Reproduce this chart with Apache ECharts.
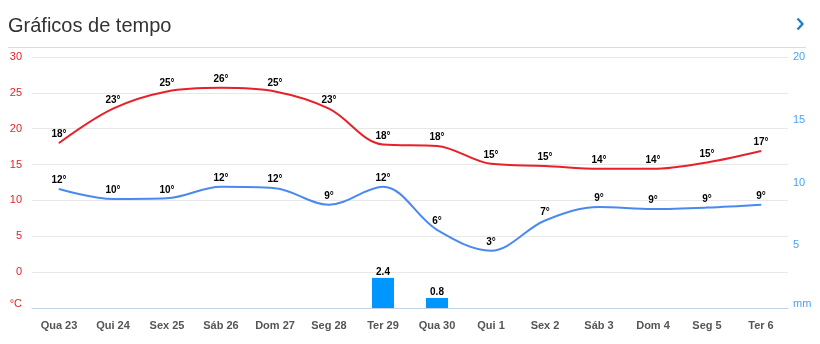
<!DOCTYPE html>
<html>
<head>
<meta charset="utf-8">
<script src="https://cdn.jsdelivr.net/npm/echarts@6/dist/echarts.min.js"></script>
<style>
html,body{margin:0;padding:0;background:#fff;}
#c{width:820px;height:344px;}
</style>
</head>
<body>
<div id="c"></div>
<script>
var categories = ['Qua 23','Qui 24','Sex 25','Sáb 26','Dom 27','Seg 28','Ter 29','Qua 30','Qui 1','Sex 2','Sáb 3','Dom 4','Seg 5','Ter 6'];
var maxTemp = [18.0, 22.8, 25.2, 25.7, 25.2, 22.8, 17.8, 17.6, 15.1, 14.8, 14.4, 14.4, 15.3, 16.9];
var minTemp = [11.6, 10.2, 10.3, 11.9, 11.7, 9.4, 11.9, 5.9, 3.0, 7.2, 9.1, 8.8, 9.0, 9.4];
var precip = [0, 0, 0, 0, 0, 0, 2.4, 0.8, 0, 0, 0, 0, 0, 0];
var tempTicks = {min: -5, max: 30, interval: 5, unit: '°C'};
var precipTicks = {min: 0, max: 20, interval: 5, unit: 'mm'};

var FONT = '"Liberation Sans", Arial, sans-serif';
var chart = echarts.init(document.getElementById('c'), null, {renderer: 'canvas'});

var lineLabel = {
  show: true,
  position: 'top',
  distance: 3,
  color: '#000',
  fontSize: 10,
  fontWeight: 'bold',
  fontFamily: FONT,
  formatter: function (p) { return Math.round(p.value) + '°'; }
};

chart.setOption({
  animation: false,
  backgroundColor: '#fff',
  textStyle: {fontFamily: FONT},
  title: {
    text: 'Gráficos de tempo',
    left: 3,
    top: 11,
    textStyle: {fontSize: 20, fontWeight: 'normal', color: '#333', fontFamily: FONT}
  },
  graphic: [
    {type: 'line', shape: {x1: 8, y1: 47.5, x2: 806, y2: 47.5}, style: {stroke: '#dcdcdc', lineWidth: 1}},
    {type: 'polyline', shape: {points: [[797.5, 18.5], [802.5, 24], [797.5, 29.5]]}, style: {stroke: '#1b7cc0', lineWidth: 2.2, fill: null}}
  ],
  grid: {left: 32, right: 32, top: 57, bottom: 36},
  xAxis: {
    type: 'category',
    data: categories,
    boundaryGap: true,
    axisLine: {onZero: false, lineStyle: {color: '#c3d1e6', width: 1}},
    axisTick: {alignWithLabel: true, length: 9, lineStyle: {color: '#c3d1e6'}},
    axisLabel: {color: '#555', fontSize: 11, fontWeight: 'bold', fontFamily: FONT, margin: 12}
  },
  yAxis: [
    {
      type: 'value',
      min: tempTicks.min, max: tempTicks.max, interval: tempTicks.interval,
      axisLine: {show: false},
      axisTick: {show: false},
      splitLine: {lineStyle: {color: '#e8e8e8'}},
      axisLabel: {
        color: '#e8202a', fontSize: 11, fontFamily: FONT, margin: 10,
        formatter: function (v) { return v === tempTicks.min ? '{u|' + tempTicks.unit + '}' : String(v); },
        rich: {u: {color: '#e8202a', fontSize: 11, fontFamily: FONT, padding: [0, 0, 9, 0]}}
      }
    },
    {
      type: 'value',
      min: precipTicks.min, max: precipTicks.max, interval: precipTicks.interval,
      position: 'right',
      axisLine: {show: false},
      axisTick: {show: false},
      splitLine: {show: false},
      axisLabel: {
        color: '#4aa3f5', fontSize: 11, fontFamily: FONT, margin: 5,
        formatter: function (v) { return v === precipTicks.min ? '{u|' + precipTicks.unit + '}' : String(v); },
        rich: {u: {color: '#4aa3f5', fontSize: 11, fontFamily: FONT, padding: [0, 0, 9, 0]}}
      }
    }
  ],
  series: [
    {
      name: 'Precipitação',
      type: 'bar',
      yAxisIndex: 1,
      data: precip,
      barWidth: 22,
      itemStyle: {color: '#0096ff'},
      label: {
        show: true, position: 'top', distance: 1,
        color: '#000', fontSize: 10, fontWeight: 'bold', fontFamily: FONT,
        formatter: function (p) { return p.value > 0 ? p.value.toFixed(1) : ''; }
      }
    },
    {
      name: 'Máx',
      type: 'line',
      yAxisIndex: 0,
      data: maxTemp,
      smooth: 0.35,
      symbol: 'circle',
      symbolSize: 1,
      lineStyle: {color: '#e8202a', width: 2},
      itemStyle: {color: '#e8202a'},
      label: lineLabel
    },
    {
      name: 'Mín',
      type: 'line',
      yAxisIndex: 0,
      data: minTemp,
      smooth: 0.35,
      symbol: 'circle',
      symbolSize: 1,
      lineStyle: {color: '#4a8af0', width: 2},
      itemStyle: {color: '#4a8af0'},
      label: lineLabel
    }
  ]
});
</script>
</body>
</html>
